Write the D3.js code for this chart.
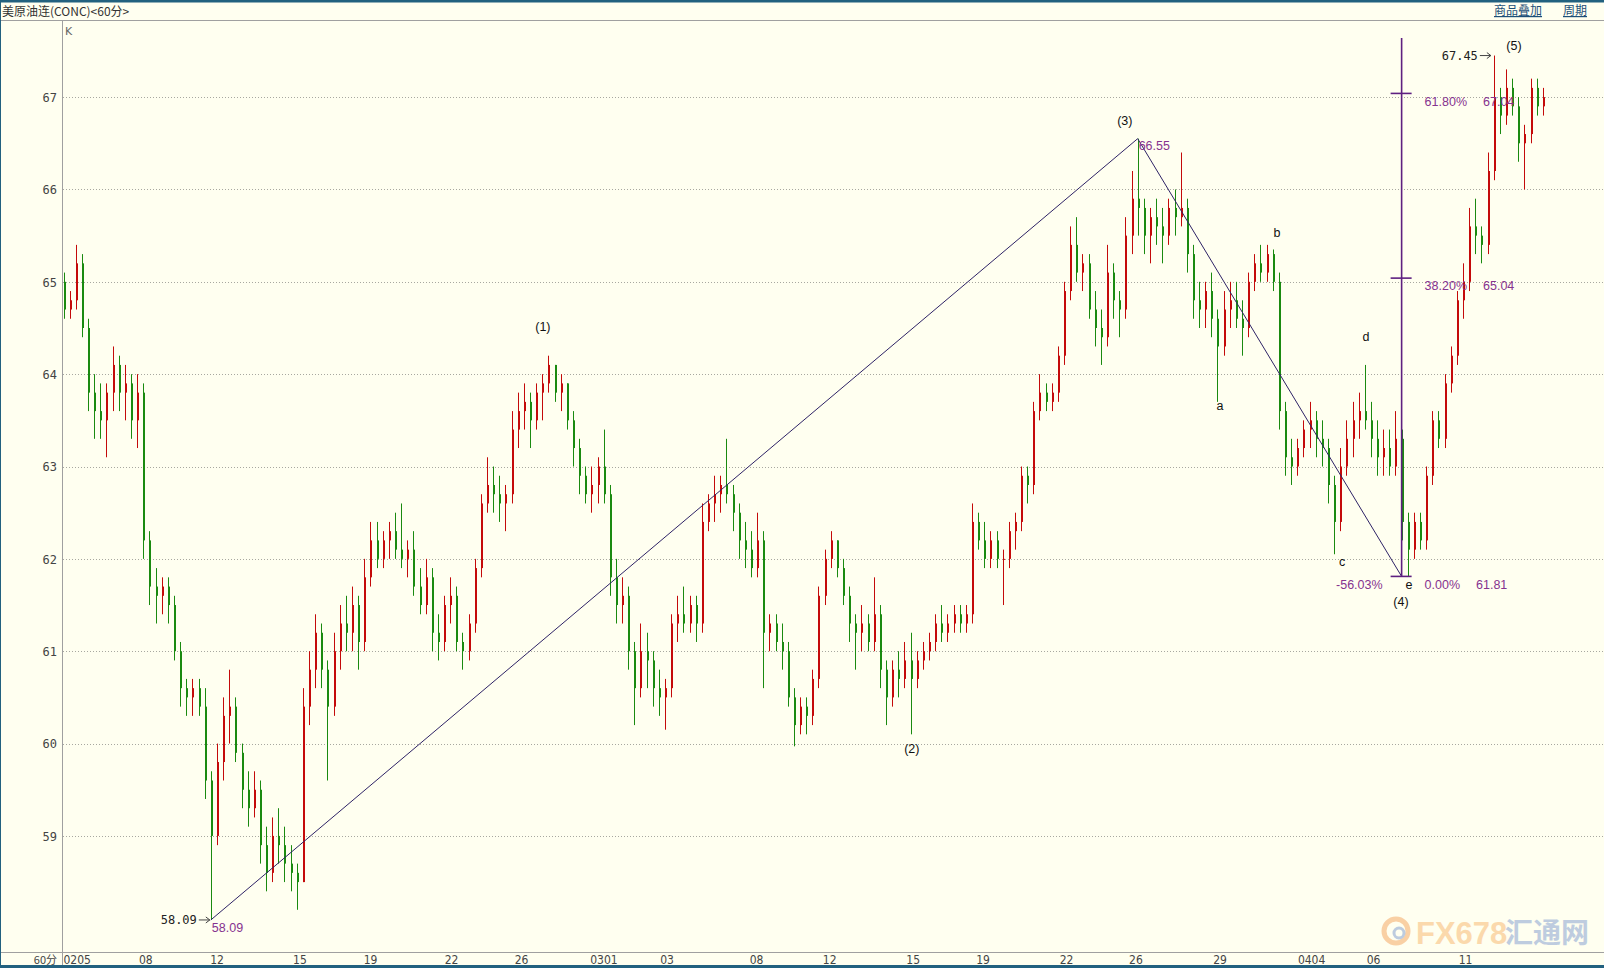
<!DOCTYPE html>
<html><head><meta charset="utf-8">
<script src="https://cdn.jsdelivr.net/npm/d3@7/dist/d3.min.js"></script>
<style>
body{margin:0;background:#fffff0;overflow:hidden}
svg{display:block}
</style>
</head><body>
<svg id="c" width="1604" height="968"></svg>
<script>
// ---------- DATA ----------
// OHLC bars [open, high, low, close], each bar ~ a few hours
const febBars = [
[65.0,65.1,64.6,64.7],[64.7,64.9,64.6,64.8],[64.8,65.4,64.7,65.2],[65.2,65.3,64.4,64.5],
[64.5,64.6,63.6,63.8],[63.8,64.0,63.3,63.6],[63.6,63.9,63.3,63.5],[63.5,63.9,63.1,63.8],
[63.8,64.3,63.6,64.1],[64.1,64.2,63.6,63.8],[63.8,64.1,63.5,63.9],[63.9,64.0,63.3,63.5],
[63.5,64.0,63.2,63.8],[63.8,63.9,62.0,62.2],[62.2,62.3,61.5,61.7],[61.7,61.9,61.3,61.6],
[61.6,61.8,61.4,61.7],[61.7,61.8,61.3,61.5],[61.5,61.6,60.9,61.0],[61.0,61.1,60.4,60.6],
[60.6,60.7,60.3,60.5],[60.5,60.7,60.3,60.6],[60.6,60.7,60.3,60.4],[60.4,60.6,59.4,59.6],
[59.6,59.7,58.09,59.0],[59.0,60.0,58.9,59.8],[59.8,60.5,59.6,60.3],[60.3,60.8,60.0,60.4],
[60.4,60.5,59.8,59.9],[59.9,60.0,59.3,59.5],[59.5,59.7,59.1,59.3],[59.3,59.7,59.2,59.5],
[59.5,59.6,58.7,58.9],[58.9,59.1,58.4,58.6],[58.6,59.2,58.5,59.0],[59.0,59.3,58.7,58.9],
[58.9,59.1,58.5,58.7],[58.7,58.9,58.4,58.6],[58.6,58.7,58.2,58.5],[58.5,60.6,58.5,60.4],
[60.4,61.0,60.2,60.8],[60.8,61.4,60.6,61.2],[61.2,61.3,60.6,60.8],[60.8,60.9,59.6,60.4],
[60.4,61.2,60.3,61.0],[61.0,61.5,60.8,61.3],[61.3,61.6,61.0,61.2],[61.2,61.7,61.0,61.5],
[61.5,61.6,60.8,61.1],[61.1,62.0,61.0,61.8],[61.8,62.4,61.7,62.2],[62.2,62.4,61.9,62.0],
[62.0,62.3,61.9,62.2],[62.2,62.4,62.0,62.3],[62.3,62.5,62.0,62.1],[62.1,62.6,61.9,62.0],
[62.0,62.2,61.8,62.1],[62.1,62.3,61.6,61.7],[61.7,61.9,61.4,61.5],[61.5,62.0,61.4,61.8],
[61.8,61.9,61.0,61.2],[61.2,61.4,60.9,61.1],[61.1,61.6,61.0,61.5],[61.5,61.8,61.3,61.6],
[61.6,61.7,61.0,61.1],[61.1,61.2,60.8,61.0],[61.0,61.4,60.9,61.3],[61.3,62.0,61.2,61.9],
[61.9,62.7,61.8,62.6],[62.6,63.1,62.5,62.8],[62.8,63.0,62.5,62.7],[62.7,62.9,62.4,62.6],
[62.6,62.8,62.3,62.7],[62.7,63.6,62.6,63.4],[63.4,63.8,63.2,63.6],[63.6,63.9,63.4,63.7],
[63.7,63.8,63.2,63.5],[63.5,63.9,63.4,63.8],[63.8,64.0,63.5,63.9],[63.9,64.2,63.8,64.1],
[64.1,64.1,63.7,63.8],[63.8,64.0,63.6,63.9],[63.9,63.9,63.4,63.5],[63.5,63.6,63.0,63.2],
[63.2,63.3,62.7,62.9],[62.9,63.0,62.6,62.7]
];
const marBars = [
[62.7,63.0,62.5,62.8],[62.8,63.1,62.6,63.0],[63.0,63.4,62.6,62.7],[62.7,62.8,61.6,61.8],
[61.8,62.0,61.3,61.5],[61.5,61.8,61.3,61.6],[61.6,61.7,60.8,61.0],[61.0,61.1,60.2,60.6],
[60.6,61.3,60.5,61.0],[61.0,61.2,60.6,60.9],[60.9,61.0,60.4,60.6],[60.6,60.8,60.3,60.5],
[60.5,60.7,60.15,60.6],[60.6,61.4,60.5,61.3],[61.3,61.6,61.1,61.4],[61.4,61.7,61.2,61.3],
[61.3,61.6,61.2,61.5],[61.5,61.6,61.1,61.3],[61.3,62.6,61.2,62.4],[62.4,62.7,62.3,62.6],
[62.6,62.9,62.4,62.7],[62.7,62.9,62.5,62.8],[62.8,63.3,62.6,62.7],[62.7,62.8,62.3,62.5],
[62.5,62.6,62.0,62.2],[62.2,62.4,61.9,62.1],[62.1,62.3,61.8,61.9],[61.9,62.5,61.8,62.2],
[62.2,62.3,60.6,61.2],[61.2,61.4,61.0,61.3],[61.3,61.4,61.0,61.1],[61.1,61.3,60.8,61.0],
[61.0,61.1,60.4,60.5],[60.5,60.6,59.97,60.2],[60.2,60.5,60.1,60.4],[60.4,60.5,60.1,60.3],
[60.3,60.8,60.2,60.7],[60.7,61.7,60.6,61.6],[61.6,62.1,61.5,62.0],[62.0,62.3,61.9,62.2],
[62.2,62.2,61.8,61.9],[61.9,62.0,61.5,61.6],[61.6,61.7,61.1,61.3],[61.3,61.4,60.8,61.2],
[61.2,61.5,61.0,61.3],[61.3,61.4,61.0,61.1],[61.1,61.8,61.0,61.4],[61.4,61.5,60.6,60.8],
[60.8,60.9,60.2,60.5],[60.5,60.9,60.4,60.8],[60.8,61.0,60.5,60.7],[60.7,61.1,60.6,60.9],
[60.9,61.2,60.1,60.7],[60.7,61.0,60.6,60.9],[60.9,61.1,60.8,61.0],[61.0,61.2,60.9,61.1],
[61.1,61.4,61.0,61.3],[61.3,61.5,61.1,61.2],[61.2,61.4,61.1,61.3],[61.3,61.5,61.2,61.4],
[61.4,61.5,61.2,61.3],[61.3,61.5,61.2,61.4],[61.4,62.6,61.3,62.4],[62.4,62.5,62.1,62.2],
[62.2,62.4,61.9,62.0],[62.0,62.3,61.9,62.2],[62.2,62.3,61.9,62.0],[62.0,62.1,61.5,62.0],
[62.0,62.4,61.9,62.3],[62.3,62.5,62.1,62.4],[62.4,63.0,62.3,62.9],[62.9,63.0,62.6,62.8],
[62.8,63.7,62.7,63.6],[63.6,64.0,63.5,63.8],[63.8,63.9,63.6,63.7],[63.7,63.9,63.6,63.8],
[63.8,64.3,63.7,64.2],[64.2,65.0,64.1,64.9],[64.9,65.6,64.8,65.4],[65.4,65.7,65.0,65.1],
[65.1,65.3,64.9,65.2],[65.2,65.3,64.6,64.7],[64.7,64.9,64.3,64.5],[64.5,64.7,64.1,64.4],
[64.4,65.4,64.3,65.1],[65.1,65.2,64.6,64.8],[64.8,64.9,64.4,64.7],[64.7,65.7,64.6,65.5],
[65.5,66.2,65.3,65.9],[65.9,66.55,65.5,65.8],[65.8,65.9,65.3,65.5],[65.5,65.8,65.2,65.7],
[65.7,65.9,65.4,65.6],[65.6,65.8,65.2,65.5],[65.5,65.9,65.4,65.8],[65.8,66.0,65.5,65.7],
[65.7,66.4,65.6,65.8],[65.8,65.9,65.1,65.3],[65.3,65.4,64.6,64.8],[64.8,65.0,64.5,64.7],
[64.7,65.0,64.5,64.9],[64.9,65.1,64.4,64.6],[64.6,64.7,63.7,64.3],[64.3,64.9,64.2,64.7],
[64.7,65.0,64.5,64.8],[64.8,65.0,64.5,64.6],[64.6,64.8,64.2,64.5],[64.5,65.1,64.4,65.0],
[65.0,65.3,64.9,65.2],[65.2,65.4,65.0,65.1],[65.1,65.4,65.0,65.3],[65.3,65.35,64.9,65.0],
[65.0,65.1,63.4,63.6],[63.6,63.7,62.9,63.1],[63.1,63.3,62.8,63.0]
];
const aprBars = [
[63.0,63.3,62.9,63.2],[63.2,63.5,63.1,63.4],[63.4,63.7,63.2,63.5],[63.5,63.6,63.1,63.3],
[63.3,63.5,63.0,63.2],[63.2,63.3,62.6,62.8],[62.8,62.9,62.05,62.4],[62.4,63.2,62.3,63.0],
[63.0,63.5,62.9,63.3],[63.3,63.7,63.1,63.5],[63.5,63.8,63.3,63.6],[63.6,64.1,63.4,63.5],
[63.5,63.7,63.1,63.3],[63.3,63.5,62.9,63.1],[63.1,63.4,62.9,63.2],[63.2,63.4,62.9,63.0],
[63.0,63.6,62.9,63.3],[63.3,63.4,62.2,62.4],[62.4,62.5,61.81,62.1],[62.1,62.5,62.0,62.4],
[62.4,62.5,62.1,62.2],[62.2,63.0,62.1,62.9],[62.9,63.6,62.8,63.5],[63.5,63.6,63.2,63.3],
[63.3,64.0,63.2,63.9],[63.9,64.3,63.8,64.2],[64.2,64.9,64.1,64.8],[64.8,65.2,64.6,65.0],
[65.0,65.8,64.9,65.6],[65.6,65.9,65.3,65.5],[65.5,65.6,65.2,65.4],[65.4,66.4,65.3,66.2],
[66.2,67.45,66.1,67.0],[67.0,67.1,66.6,66.8],[66.8,67.3,66.7,67.1],[67.1,67.2,66.8,66.9],
[66.9,67.0,66.3,66.5],[66.5,66.7,66.0,66.6],[66.6,67.2,66.5,67.1],[67.1,67.2,66.8,66.9],
[66.9,67.1,66.8,67.0]
];
const bars = febBars.concat(marBars, aprBars);

const yTicks = [59, 60, 61, 62, 63, 64, 65, 66, 67];
const dateLabels = ["0205","08","12","15","19","22","26","0301","03","08","12","15","19","22","26","29","0404","06","11"];
const dateBarIdx = [0,12.3,23.9,37.4,48.9,62.1,73.5,85.8,97.2,111.8,123.7,137.3,148.7,162.3,173.6,187.3,201.1,212.3,227.3];

// wave labels: [text, bar index, price]
const waveLabels = [["(1)",78.1,64.51],["(2)",138.2,59.95],["(3)",172.9,66.74],["(4)",217.9,61.54],["(5)",236.3,67.56],
  ["a",188.4,63.66],["b",197.7,65.53],["c",208.3,61.97],["d",212.2,64.41],["e",219.2,61.72]];
// pivot points for trend lines: [bar index, price]
const pivots = [[24,58.09],[175,66.55],[218,61.81]];
// fibonacci levels from the (4) low
const fibPct = ["61.80%","38.20%","0.00%"];
const fibPrice = [67.04,65.04,61.81];
const fibTop = 67.64;

// ---------- LAYOUT ----------
const W=1604,H=968, plotL=62, plotT=20, plotB=952;
const svg=d3.select("#c");
svg.append("rect").attr("width",W).attr("height",H).attr("fill","#fffff0");

const x=d3.scaleLinear().domain([0,bars.length-1]).range([63.5,1542.8]);
const y=d3.scaleLinear().domain([57.743,67.835]).range([plotB,plotT]);

// grid
svg.append("g").selectAll("line").data(yTicks).join("line")
 .attr("x1",plotL+1).attr("x2",W).attr("y1",d=>Math.round(y(d))+0.5).attr("y2",d=>Math.round(y(d))+0.5)
 .attr("stroke","#a8a8a0").attr("stroke-dasharray","1,2");

// y axis
const yAxis=d3.axisLeft(y).tickValues(yTicks).tickSize(0).tickPadding(5).tickFormat(d3.format("d"));
const ya=svg.append("g").attr("transform",`translate(${plotL},0)`).call(yAxis);
ya.select(".domain").remove();
ya.selectAll("text").attr("font-family","'DejaVu Sans Mono','Liberation Mono',monospace").attr("font-size",12).attr("fill","#444").attr("dy","0.35em");

// x axis
const xa=svg.append("g").attr("transform",`translate(0,${plotB})`);
xa.selectAll("text").data(dateLabels).join("text")
 .attr("x",(d,i)=>x(dateBarIdx[i])).attr("y",12)
 .attr("font-family","'Liberation Sans Narrow','DejaVu Sans Condensed',sans-serif").attr("font-size",12)
 .attr("fill","#444").text(d=>d);
svg.append("text").attr("x",57).attr("y",plotB+12).attr("text-anchor","end")
 .attr("font-family","'Noto Sans CJK SC',sans-serif").attr("font-size",11).attr("fill","#444").text("60分");

// frame lines
svg.append("line").attr("x1",0).attr("x2",W).attr("y1",plotT+0.5).attr("y2",plotT+0.5).attr("stroke","#a0a0a0");
svg.append("line").attr("x1",0).attr("x2",W).attr("y1",plotB+0.5).attr("y2",plotB+0.5).attr("stroke","#a0a0a0");
svg.append("line").attr("x1",plotL+0.5).attr("x2",plotL+0.5).attr("y1",plotT).attr("y2",H).attr("stroke","#a0a0a0");
svg.append("rect").attr("x",0).attr("y",0).attr("width",W).attr("height",2.5).attr("fill","#22617f");
svg.append("rect").attr("x",0).attr("y",H-3).attr("width",W).attr("height",3).attr("fill","#22617f");
svg.append("rect").attr("x",0).attr("y",0).attr("width",1).attr("height",H).attr("fill","#22617f");

// header
svg.append("text").attr("x",2).attr("y",16).attr("font-family","'Noto Sans CJK SC',sans-serif").attr("font-size",12).attr("fill","#333").text("美原油连(CONC)<60分>");
[["商品叠加",1494],["周期",1563]].forEach(([t,xx])=>{
  svg.append("text").attr("x",xx).attr("y",15).attr("font-family","'Noto Sans CJK SC',sans-serif").attr("font-size",12)
   .attr("fill","#1d4f78").attr("text-decoration","underline").text(t);
});
svg.append("text").attr("x",65).attr("y",35).attr("font-family","'DejaVu Sans',sans-serif").attr("font-size",11).attr("fill","#666").text("K");

// watermark
const wm=svg.append("g").attr("opacity",0.5);
wm.append("circle").attr("cx",1396).attr("cy",931).attr("r",12).attr("fill","none").attr("stroke","#f4a25a").attr("stroke-width",5);
wm.append("circle").attr("cx",1399).attr("cy",933).attr("r",5).attr("fill","none").attr("stroke","#7d9bd0").attr("stroke-width",3);
wm.append("text").attr("x",1416).attr("y",944).attr("font-family","'Liberation Sans',Arial,sans-serif").attr("font-weight","bold").attr("font-size",31).attr("fill","#f8b56a").text("FX678");
wm.append("text").attr("x",1505).attr("y",943).attr("font-family","'Noto Sans CJK SC',sans-serif").attr("font-weight","bold").attr("font-size",28).attr("fill","#7f9bd0").text("汇通网");

// candles
const up="#c40a0a", dn="#1a8a10";
const cg=svg.append("g");
cg.selectAll("line").data(bars).join("line")
 .attr("x1",(d,i)=>Math.round(x(i))+0.5).attr("x2",(d,i)=>Math.round(x(i))+0.5)
 .attr("y1",d=>y(d[1])).attr("y2",d=>y(d[2]))
 .attr("stroke",d=>d[3]>=d[0]?up:dn).attr("stroke-width",1);
cg.selectAll("rect").data(bars).join("rect")
 .attr("x",(d,i)=>Math.round(x(i))).attr("width",2)
 .attr("y",d=>y(Math.max(d[0],d[3]))).attr("height",d=>Math.max(1,Math.abs(y(d[0])-y(d[3]))))
 .attr("fill",d=>d[3]>=d[0]?up:dn);

// trend lines
svg.append("path").attr("d",d3.line().x(d=>x(d[0])).y(d=>y(d[1]))(pivots))
 .attr("fill","none").attr("stroke","#2e2366").attr("stroke-width",1);

// fib tool
const fx=x(pivots[2][0]);
const fg=svg.append("g").attr("stroke","#5e2080").attr("stroke-width",1.6);
fg.append("line").attr("x1",fx).attr("x2",fx).attr("y1",y(fibTop)).attr("y2",y(fibPrice[2]));
fibPrice.forEach(p=>fg.append("line").attr("x1",fx-11).attr("x2",fx+10).attr("y1",y(p)).attr("y2",y(p)));
const purple="#86338f";
const lf="'Liberation Sans',Arial,sans-serif";
fibPct.forEach((t,i)=>{
  svg.append("text").attr("x",fx+23).attr("y",y(fibPrice[i])+8).attr("dy","0.35em").attr("font-family",lf).attr("font-size",12.5).attr("fill",purple).text(t);
});
const priceX=[1483,1483,1476];
fibPrice.forEach((p,i)=>{
  svg.append("text").attr("x",priceX[i]).attr("y",y(p)+8).attr("dy","0.35em").attr("font-family",lf).attr("font-size",12.5).attr("fill",purple).text(p.toFixed(2));
});
svg.append("text").attr("x",fx-19).attr("y",y(fibPrice[2])+8).attr("dy","0.35em").attr("text-anchor","end").attr("font-family",lf).attr("font-size",12.5).attr("fill",purple).text("-56.03%");

// extreme price labels
svg.append("text").attr("x",x(pivots[0][0])+1).attr("y",y(pivots[0][1])+8).attr("dy","0.35em").attr("font-family",lf).attr("font-size",12.5).attr("fill",purple).text(pivots[0][1].toFixed(2));
svg.append("text").attr("x",x(pivots[1][0])+1).attr("y",y(pivots[1][1])+7).attr("dy","0.35em").attr("font-family",lf).attr("font-size",12.5).attr("fill",purple).text(pivots[1][1].toFixed(2));

// arrow labels
const arrowLbl=(bi,price,t)=>{
  const xx=x(bi), yy=y(price);
  svg.append("text").attr("x",xx-14).attr("y",yy).attr("dy","0.35em").attr("text-anchor","end")
   .attr("font-family","'DejaVu Sans Mono','Liberation Mono',monospace").attr("font-size",12).attr("fill","#222").text(t);
  svg.append("line").attr("x1",xx-12).attr("x2",xx-1).attr("y1",yy).attr("y2",yy).attr("stroke","#444");
  svg.append("path").attr("d",`M${xx-5},${yy-3}L${xx-1},${yy}L${xx-5},${yy+3}`).attr("fill","none").attr("stroke","#444");
};
arrowLbl(24,58.09,"58.09");
arrowLbl(232.7,67.45,"67.45");

// wave labels
svg.append("g").selectAll("text").data(waveLabels).join("text")
 .attr("x",d=>x(d[1])).attr("y",d=>y(d[2])).attr("dy","0.35em").attr("text-anchor","middle")
 .attr("font-family",lf).attr("font-size",12.5).attr("fill","#111").text(d=>d[0]);
</script>
</body></html>
